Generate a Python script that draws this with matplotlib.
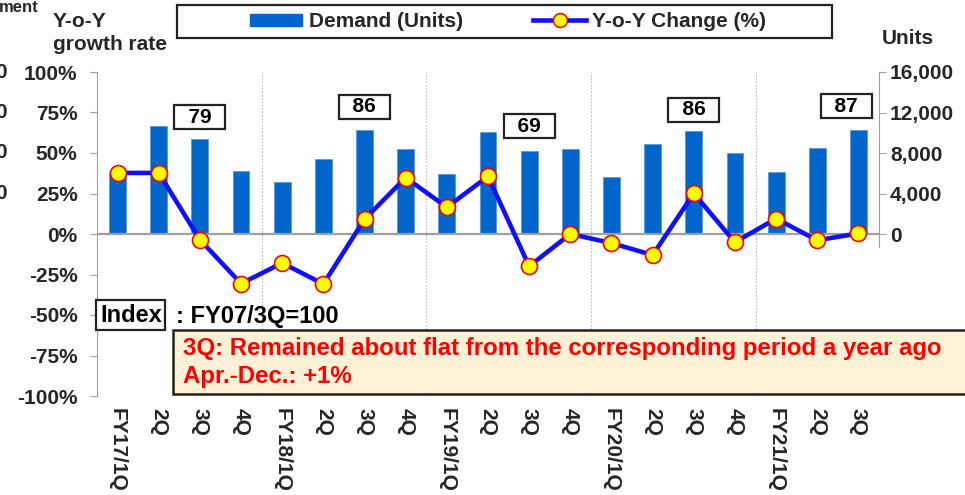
import matplotlib
matplotlib.use('Agg')
import matplotlib.pyplot as plt
from matplotlib.patches import Rectangle, Patch
from matplotlib.lines import Line2D

plt.rcParams['font.family'] = ['Liberation Sans', 'DejaVu Sans']
plt.rcParams['font.weight'] = 'bold'

# data
quarters = ['FY17/1Q', '2Q', '3Q', '4Q', 'FY18/1Q', '2Q', '3Q', '4Q',
            'FY19/1Q', '2Q', '3Q', '4Q', 'FY20/1Q', '2Q', '3Q', '4Q',
            'FY21/1Q', '2Q', '3Q']
demand = [6000, 10700, 9400, 6200, 5100, 7400, 10300, 8350,
          5950, 10050, 8200, 8400, 5600, 8850, 10200, 8000,
          6100, 8450, 10300]
yoy = [37.7, 37.7, -3.5, -30.6, -17.9, -30.9, 9.1, 34.8,
       16.5, 35.6, -19.9, 0.0, -5.6, -13.0, 25.1, -5.1,
       9.5, -3.9, 0.4]
index_quarters = [2, 6, 10, 14, 18]
index_values = [79, 86, 69, 86, 87]
pct_ticks = [-100, -75, -50, -25, 0, 25, 50, 75, 100]
unit_ticks = [0, 4000, 8000, 12000, 16000]

W, H = 965, 495
def fx(x):
    return x / W
def fy(y):
    return 1 - y / H

BAR = '#0066cc'
LINE = '#1010ff'
TXT = '#262626'
GRID = '#a0a0a0'

fig = plt.figure(figsize=(W / 100, H / 100), dpi=100)
ax = fig.add_axes([fx(97), fy(396), fx(879) - fx(97), fy(72) - fy(396)])
ax2 = ax.twinx()
ax.set_zorder(ax2.get_zorder() + 1)
ax.patch.set_visible(False)

x = list(range(len(quarters)))
ax2.bar(x, demand, width=0.41, color=BAR, edgecolor='#5b9bd8', linewidth=0.6, zorder=2)
ax2.set_ylim(-16000, 16000)
ax2.set_yticks(unit_ticks)
ax2.set_yticklabels([f'{v:,}' for v in unit_ticks])

ax.plot(x, yoy, color=LINE, lw=3.3, marker='o', ms=11.5, mfc='#ffff00',
        mec='#ff0000', mew=1.2, zorder=5, clip_on=False)
ax.set_ylim(-100, 100)
ax.set_xlim(-0.5, len(quarters) - 0.5)
ax.set_yticks(pct_ticks)
ax.set_yticklabels([f'{v}%' for v in pct_ticks])
ax.set_xticks(x)
ax.set_xticklabels(quarters, rotation=270, va='top', ha='center')

ax.axhline(0, color=GRID, lw=1.6, zorder=1)
for b in [3.5, 7.5, 11.5, 15.5]:
    ax.axvline(b, color='#b8b8b8', lw=0.8, ls=(0, (1.5, 1.5)), zorder=0)

for a in (ax, ax2):
    for s in ['top', 'bottom', 'left', 'right']:
        a.spines[s].set_visible(False)
ax.spines['left'].set_visible(True)
ax.spines['left'].set_color(GRID)
ax2.spines['right'].set_visible(True)
ax2.spines['right'].set_color(GRID)
ax2.spines['right'].set_bounds(-1300, 16000)

ax.tick_params(axis='y', length=5, color=GRID, pad=9, labelsize=15, labelcolor=TXT)
ax.tick_params(axis='x', length=0, pad=9, labelsize=15, labelcolor=TXT)
ax2.tick_params(axis='y', length=5, color=GRID, pad=3, labelsize=15, labelcolor=TXT)
for lab in ax.get_xticklabels() + ax.get_yticklabels() + ax2.get_yticklabels():
    lab.set_fontweight('bold')

# index boxes above bars
index_y = [11550, 12590, 10630, 12290, 12640]
index_dx = [0, 0, 0, 0, -0.3]
for q, v, yy, dx in zip(index_quarters, index_values, index_y, index_dx):
    ax2.text(q + dx, yy, f'  {v}  ', ha='center', va='center', fontsize=15,
             fontweight='bold', color='black', zorder=6,
             bbox=dict(boxstyle='square,pad=0.12', fc='white', ec='#222222', lw=1.6))

# axis titles
fig.text(fx(53), fy(27), 'Y-o-Y', ha='left', va='baseline', fontsize=15,
         fontweight='bold', color=TXT)
fig.text(fx(53), fy(50), 'growth rate', ha='left', va='baseline', fontsize=15,
         fontweight='bold', color=TXT)
fig.text(fx(882), fy(39), 'Units', ha='left', va='center', fontsize=15,
         fontweight='bold', color=TXT)
fig.text(fx(-1), fy(15), 'ment', ha='left', va='bottom', fontsize=12,
         fontweight='bold', color=TXT)
for yy in [72, 112, 152, 193]:
    fig.text(fx(7), fy(yy), '0', ha='right', va='center', fontsize=15,
             fontweight='bold', color=TXT)

# legend
fig.patches.append(Rectangle((fx(177), fy(38)), fx(832) - fx(177), fy(5) - fy(38),
                             transform=fig.transFigure, fill=False, ec='#222222',
                             lw=1.6, zorder=10))
handles = [Patch(color=BAR),
           Line2D([0], [0], color=LINE, lw=3.3, marker='o', ms=10,
                  mfc='#ffff00', mec='#ff0000', mew=1.1)]
fig.legend(handles, ['Demand (Units)', 'Y-o-Y Change (%)'], loc='center',
           bbox_to_anchor=(fx(508), fy(21.5)), ncol=2, frameon=False,
           prop={'size': 15, 'weight': 'bold'}, handlelength=2.5,
           handleheight=0.5, handletextpad=0.3, columnspacing=3.4,
           labelcolor=TXT)

# index note
fig.text(fx(100), fy(315), 'Index', ha='left', va='center', fontsize=17,
         fontweight='bold', color='black',
         bbox=dict(boxstyle='square,pad=0.15', fc='white', ec='#222222', lw=1.6))
fig.text(fx(176), fy(316), ': FY07/3Q=100', ha='left', va='center', fontsize=17,
         fontweight='bold', color='black')

# annotation box
fig.patches.append(Rectangle((fx(173), fy(394)), fx(1000) - fx(173), fy(330) - fy(394),
                             transform=fig.transFigure, fc='#fff1d6', ec='#222222',
                             lw=1.8, zorder=10))
fig.text(fx(183), fy(349), '3Q: Remained about flat from the corresponding period a year ago',
         ha='left', va='center', fontsize=17.3, fontweight='bold', color='#ff0000', zorder=11)
fig.text(fx(183), fy(377), 'Apr.-Dec.: +1%', ha='left', va='center', fontsize=17.3,
         fontweight='bold', color='#ff0000', zorder=11)

fig.savefig('out.png', dpi=100)
